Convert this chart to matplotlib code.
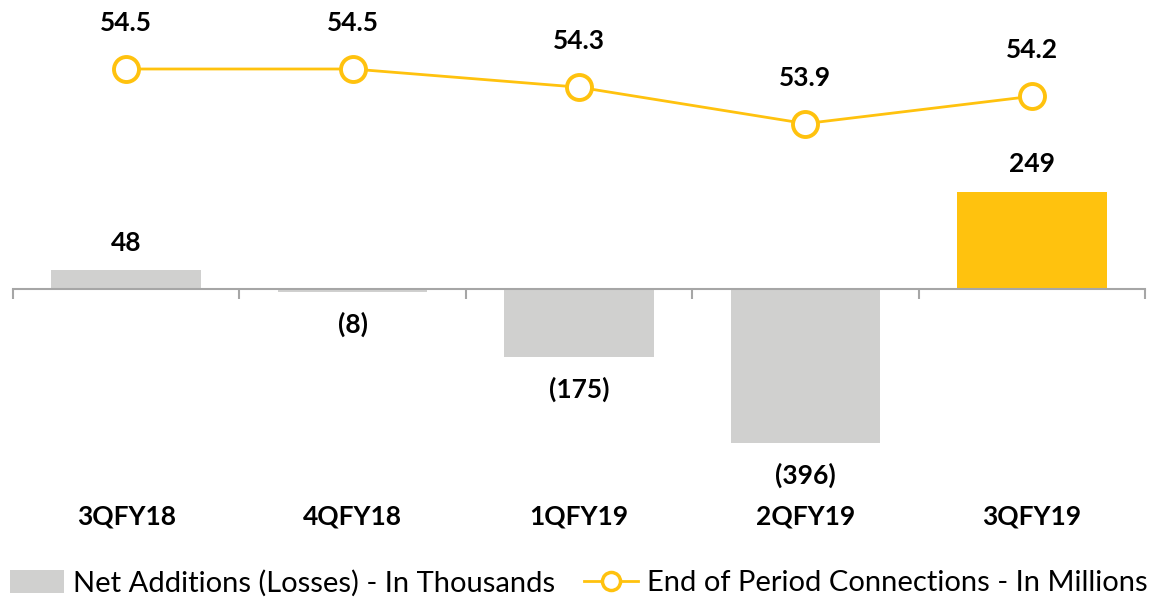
import numpy as np
import matplotlib.pyplot as plt
from matplotlib.lines import Line2D
from matplotlib.patches import Patch

plt.rcParams['font.family'] = ['Lato', 'DejaVu Sans']

quarters = ['3QFY18', '4QFY18', '1QFY19', '2QFY19', '3QFY19']
net_adds = [48, -8, -175, -396, 249]          # thousands
connections = [54.5, 54.5, 54.3, 53.9, 54.2]  # millions

grey = '#D0D0CF'
gold = '#FFC20E'
axis_grey = '#A6A6A6'

W, H = 1149, 599
fig = plt.figure(figsize=(W / 100, H / 100), dpi=100)
ax_top, ax_bot = 20, 470
ax = fig.add_axes([13 / W, 1 - ax_bot / H, (1145 - 13) / W, (ax_bot - ax_top) / H])

x = np.arange(len(quarters))
colors = [grey] * 4 + [gold]
bars = ax.bar(x, net_adds, width=0.66, color=colors, zorder=2)

# primary scale: zero line at y=289px, ~0.39 px per thousand
px = 0.39
ax.set_ylim(-(ax_bot - 289) / px, (289 - ax_top) / px)
ax.set_xlim(-0.5, len(quarters) - 0.5)

for s in ['top', 'right', 'left']:
    ax.spines[s].set_visible(False)
ax.spines['bottom'].set_position(('data', 0))
ax.spines['bottom'].set_color(axis_grey)
ax.spines['bottom'].set_linewidth(1.5)
ax.set_yticks([])
ax.set_xticks(np.arange(-0.5, len(quarters), 1.0))
ax.tick_params(axis='x', direction='out', length=7, width=1.5,
               color=axis_grey, labelbottom=False)

for xi, v in zip(x, net_adds):
    txt = f'{v}' if v >= 0 else f'({-v})'
    if v >= 0:
        ax.annotate(txt, (xi, v), xytext=(0, 20), textcoords='offset points',
                    ha='center', va='center', fontsize=19, fontweight='bold')
    else:
        ax.annotate(txt, (xi, v), xytext=(0, -23), textcoords='offset points',
                    ha='center', va='center', fontsize=19, fontweight='bold')

lab_y = (ax_bot - 517) / (ax_bot - ax_top)
for xi, q in zip(x, quarters):
    ax.text(xi, lab_y, q, transform=ax.get_xaxis_transform(), ha='center',
            va='center', fontsize=19, fontweight='bold')

# secondary axis for connections: 54.5 at y=69px, ~91 px per million
ax2 = ax.twinx()
ppm = 91.0
ax2.set_ylim(54.5 - (ax_bot - 69) / ppm, 54.5 + (69 - ax_top) / ppm)
ax2.axis('off')
ax2.plot(x, connections, color=gold, lw=2, marker='o', ms=18,
         mfc='white', mec=gold, mew=2.8, zorder=3)
for xi, v in zip(x, connections):
    ax2.annotate(f'{v:.1f}', (xi, v), xytext=(0, 33), textcoords='offset points',
                 ha='center', va='center', fontsize=19, fontweight='bold')

handles = [Patch(facecolor=grey, edgecolor='none'),
           Line2D([0], [0], color=gold, lw=2, marker='o', ms=13,
                  mfc='white', mec=gold, mew=2.5)]
fig.legend(handles, ['Net Additions (Losses) - In Thousands',
                     'End of Period Connections - In Millions'],
           loc='center', bbox_to_anchor=(0.5 + 4 / W, 1 - 583 / H), ncol=2,
           frameon=False, fontsize=21, handlelength=1.85, handleheight=0.85,
           handletextpad=0.3, columnspacing=1.0, borderpad=0, borderaxespad=0)

fig.savefig('out.png', dpi=100)
